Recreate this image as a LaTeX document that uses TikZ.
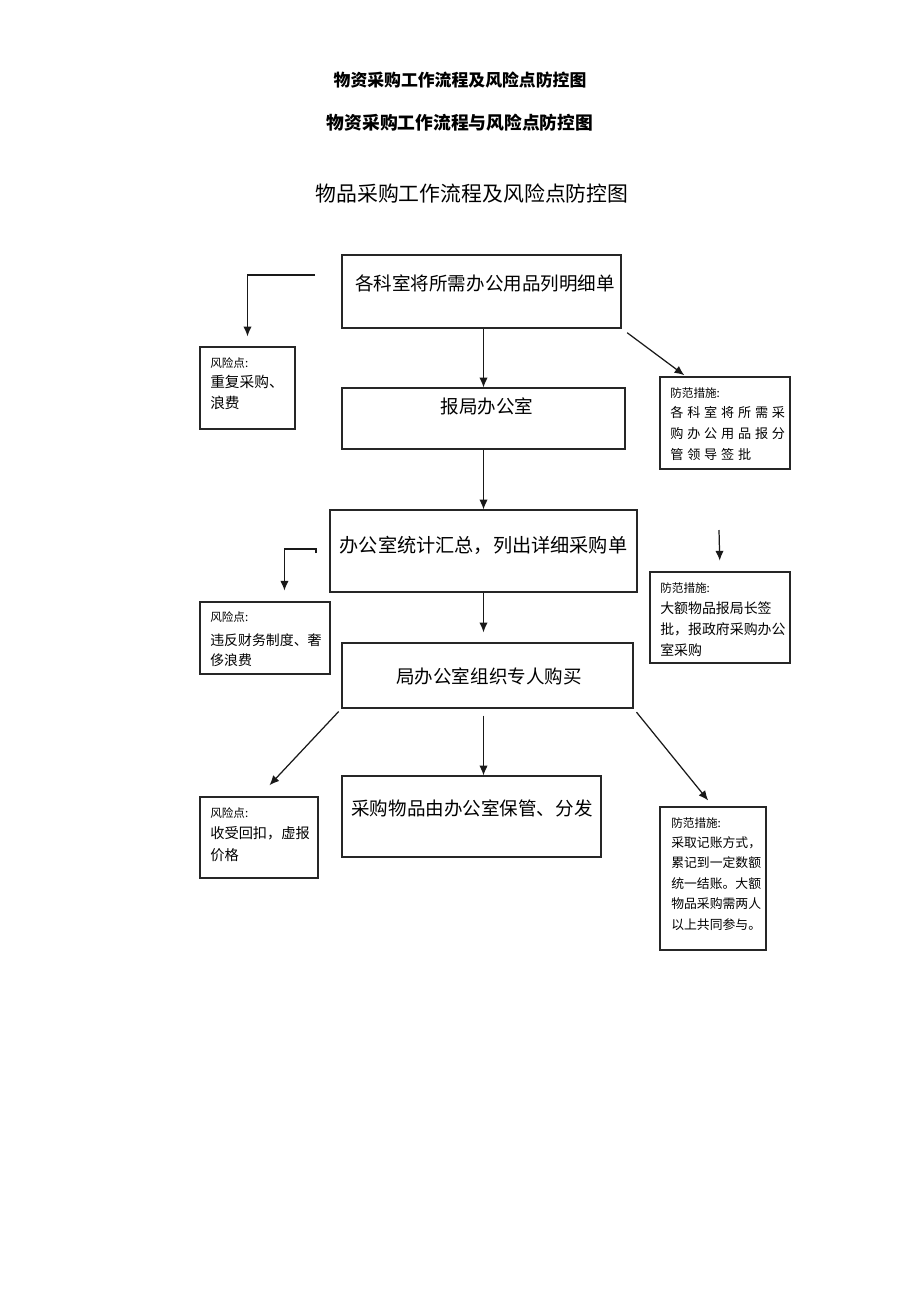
\documentclass[tikz,border=0pt]{standalone}
\usepackage{fontspec}
\setmainfont{Noto Sans CJK SC}
\usetikzlibrary{arrows.meta}
\begin{document}
\begin{tikzpicture}[x=0.647pt,y=-0.647pt,>={Latex[length=6.3pt,width=5.4pt]},
  wh/.style 2 args={minimum width=#1*0.647pt,minimum height=#2*0.647pt},
  box/.style={draw=black!85,line width=0.75pt,inner sep=0pt},
  arr/.style={->,line width=0.8pt,black!90},
  big/.style={inner sep=0pt,font=\fontsize{12}{14}\selectfont},
  tag/.style={inner sep=0pt,anchor=west,font=\fontsize{7.5}{9}\selectfont},
  body/.style={inner sep=0pt,anchor=north west,align=left,font=\fontsize{9}{13.5}\selectfont}]
  \useasboundingbox (0,0) rectangle (920,1302);

  \node[inner sep=0pt,font=\fontsize{10.9}{13}\selectfont\bfseries] (head1) at (460,80) {物资采购工作流程及风险点防控图};
  \node[inner sep=0pt,font=\fontsize{11.5}{13}\selectfont\bfseries] (head2) at (460,123) {物资采购工作流程与风险点防控图};
  \node[inner sep=0pt,font=\fontsize{13.5}{16}\selectfont] (title) at (472,194) {物品采购工作流程及风险点防控图};

  \node[box,wh={279}{73}] (b1) at (481.5,291.5) {};
  \node[box,wh={283}{61}] (b2) at (483.5,418.5) {};
  \node[box,wh={307}{82}] (b3) at (483.5,551) {};
  \node[box,wh={291}{65}] (b4) at (487.5,675.5) {};
  \node[box,wh={259}{81}] (b5) at (471.5,816.5) {};
  \node[big] (t1) at (485,283) {各科室将所需办公用品列明细单};
  \node[big] (t2) at (487,406) {报局办公室};
  \node[big,font=\fontsize{12.4}{14}\selectfont] (t3) at (483.5,545) {办公室统计汇总，列出详细采购单};
  \node[big] (t4) at (489,676) {局办公室组织专人购买};
  \node[big] (t5) at (472,808) {采购物品由办公室保管、分发};

  \node[box,wh={95}{82}] (r1) at (247.5,388) {};
  \node[box,wh={130}{72}] (r2) at (265,638) {};
  \node[box,wh={118}{81}] (r3) at (259,837.5) {};
  \node[tag] (r1h) at (210,363) {风险点:};
  \node[body,font=\fontsize{9.5}{13.6}\selectfont] (r1t) at (210,375) {重复采购、\\浪费};
  \node[tag] (r2h) at (210,617) {风险点:};
  \node[body] (r2t) at (210,633) {违反财务制度、奢\\侈浪费};
  \node[tag] (r3h) at (210,813) {风险点:};
  \node[body,font=\fontsize{9.2}{14.5}\selectfont] (r3t) at (210,826) {收受回扣，虚报\\价格};

  \node[box,wh={130}{92}] (m1) at (725,423) {};
  \node[box,wh={140}{91}] (m2) at (720,617.5) {};
  \node[box,wh={106}{143}] (m3) at (713,878.5) {};
  \node[tag] (m1h) at (670,393) {防范措施:};
  \node[body,font=\fontsize{8.5}{13.7}\selectfont\addfontfeature{LetterSpace=29}] (m1t) at (670,406) {各科室将所需采\\购办公用品报分\\管领导签批};
  \node[tag] (m2h) at (660,588) {防范措施:};
  \node[body,font=\fontsize{9}{13.7}\selectfont] (m2t) at (660,601) {大额物品报局长签\\批，报政府采购办公\\室采购};
  \node[tag] (m3h) at (671,823) {防范措施:};
  \node[body,font=\fontsize{8.3}{13.3}\selectfont] (m3t) at (671,836) {采取记账方式，\\累记到一定数额\\统一结账。大额\\物品采购需两人\\以上共同参与。};

  \coordinate (r1in) at (315,275);
  \coordinate (r2in) at (316,553);
  \coordinate (m2in) at (719,530);

  \draw[arr,shorten >=6.5pt] (r1in) -| (r1.north);
  \draw[arr] (b1.south -| b2.north) -- (b2.north);
  \draw[arr,shorten <=4.5pt,shorten >=1.3pt] (b1.south east) -- (m1.130);
  \draw[arr] (b2.south) -- (b3.north);
  \draw[arr,shorten >=7pt] (r2in) -- ++(0,-4) -| (r2.62);
  \draw[arr,shorten >=7pt] (m2in) -- (m2.north);
  \draw[arr,shorten >=6.5pt] (b3.south) -- (b3.south |- b4.north);
  \draw[arr,shorten <=4.5pt] (b4.south -| b2.south) -- (b2.south |- b5.north);
  \draw[arr,shorten <=2.6pt,shorten >=9.9pt] (b4.south west) -- (r3.north);
  \draw[arr,shorten <=3pt,shorten >=5pt] (b4.south east) -- (m3.north);
\end{tikzpicture}
\end{document}
